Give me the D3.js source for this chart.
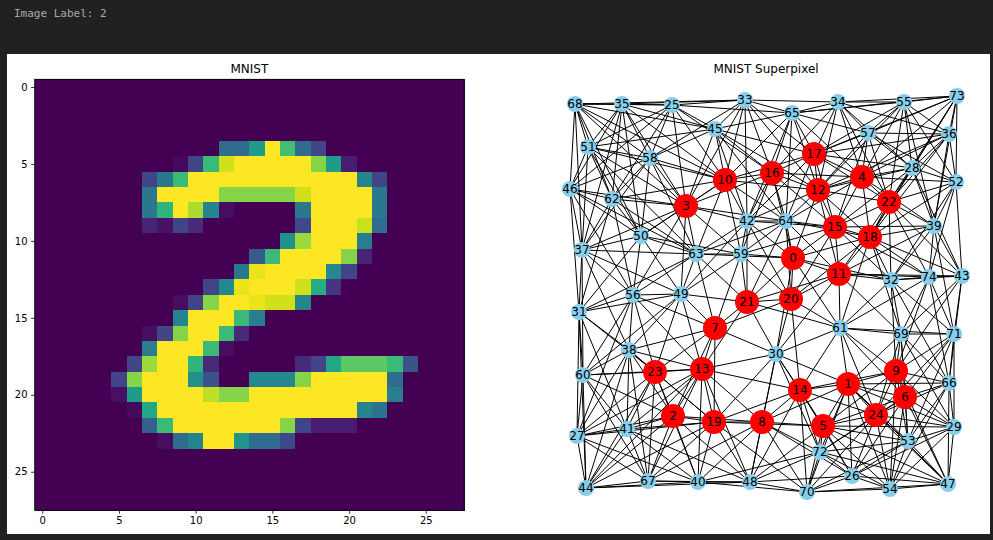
<!DOCTYPE html>
<html>
<head>
<meta charset="utf-8">
<script src="https://cdn.jsdelivr.net/npm/d3@7"></script>
<style>
body { margin: 0; background: #212121; overflow: hidden; }
svg { display: block; font-family: "DejaVu Sans", sans-serif; }
</style>
</head>
<body>
<svg id="chart" width="993" height="540"></svg>
<script>
// MNIST sample and its superpixel graph

var imageLabel = 2;
var gridSize = 28;
var imageTicks = [0, 5, 10, 15, 20, 25];

// non-empty rows of the digit: [row, first column, pixel values 0-255]
var digitRows = [
	[4, 12, [89, 89, 140, 255, 178, 89, 51]],
	[5, 9, [5, 51, 173, 237, 255, 255, 255, 255, 255, 209, 140, 20]],
	[6, 7, [51, 102, 173, 255, 255, 255, 255, 255, 255, 255, 255, 255, 255, 255, 115, 51]],
	[7, 7, [102, 255, 255, 255, 255, 209, 209, 209, 209, 209, 237, 255, 255, 255, 255, 102]],
	[8, 7, [102, 166, 255, 224, 115, 8, 0, 0, 0, 0, 102, 255, 255, 255, 255, 102]],
	[9, 7, [25, 12, 51, 30, 0, 0, 0, 0, 0, 0, 56, 255, 255, 255, 235, 89]],
	[10, 16, [128, 217, 255, 255, 255, 107]],
	[11, 14, [71, 173, 255, 255, 255, 255, 209, 25]],
	[12, 13, [102, 247, 255, 255, 255, 255, 120, 51]],
	[13, 11, [51, 120, 247, 255, 255, 255, 237, 158, 38]],
	[14, 9, [8, 51, 209, 255, 255, 247, 237, 237, 115]],
	[15, 9, [115, 255, 255, 255, 173, 107]],
	[16, 7, [8, 51, 209, 255, 255, 173, 30]],
	[17, 7, [107, 255, 255, 255, 173, 8]],
	[18, 6, [51, 217, 255, 255, 166, 30, 0, 0, 0, 0, 0, 30, 51, 153, 191, 191, 191, 173, 64]],
	[19, 5, [51, 209, 255, 255, 255, 128, 64, 0, 0, 120, 120, 120, 209, 255, 255, 255, 255, 255, 89]],
	[20, 5, [10, 140, 255, 255, 255, 255, 230, 209, 209, 255, 255, 255, 255, 255, 255, 255, 255, 255, 107]],
	[21, 6, [5, 153, 255, 255, 255, 255, 255, 255, 255, 255, 255, 255, 255, 255, 255, 115, 97]],
	[22, 7, [77, 173, 255, 255, 255, 255, 255, 255, 255, 209, 51, 20, 20, 20]],
	[23, 8, [8, 89, 115, 255, 255, 133, 89, 89, 56]]
];

// superpixel node positions in layout units (0-400), index = node id
var nodeX = [228, 283, 108, 121, 297, 258, 340, 150, 197, 331,
	160, 274, 253, 137, 235, 270, 207, 249, 305, 149,
	226, 182, 324, 90, 311, 107, 287, 12, 347, 389,
	211, 14, 326, 180, 273, 57, 384, 17, 64, 369,
	133, 62, 182, 397, 21, 150, 5, 383, 185, 116,
	76, 23, 391, 343, 325, 339, 68, 303, 85, 176,
	18, 275, 47, 131, 221, 227, 384, 83, 10, 336,
	242, 389, 255, 392, 364];
var nodeY = [166, 292, 324, 114, 85, 334, 305, 236, 330, 279,
	88, 182, 98, 277, 298, 135, 81, 62, 145, 330,
	207, 210, 110, 280, 323, 13, 384, 344, 76, 335,
	262, 220, 188, 8, 10, 12, 42, 158, 258, 134,
	390, 337, 129, 184, 396, 37, 97, 392, 390, 202,
	144, 55, 90, 349, 397, 10, 203, 41, 66, 162,
	283, 236, 107, 162, 129, 21, 291, 389, 12, 242,
	400, 242, 360, 4, 185];
var digitNodeCount = 25; // nodes 0-24 lie on the stroke
var neighbourCount = 12;

var svg = d3.select('#chart');

// top caption
svg.append('text')
	.attr('x', 14).attr('y', 17)
	.attr('fill', '#aaaaaa')
	.style('font-family', '"DejaVu Sans Mono", monospace')
	.style('font-size', '11px')
	.text('Image Label: ' + imageLabel);

// figure background
svg.append('rect')
	.attr('x', 7).attr('y', 54)
	.attr('width', 983).attr('height', 480)
	.attr('fill', '#ffffff');

// ---- left: the image ----
var xs = d3.scaleLinear().domain([-0.5, gridSize - 0.5]).range([34.6, 464.1]);
var ys = d3.scaleLinear().domain([-0.5, gridSize - 0.5]).range([79.3, 510.2]);

var pixels = [];
for (var r = 0; r < gridSize; r++) {
	for (var c = 0; c < gridSize; c++) pixels.push({r: r, c: c, v: 0});
}
digitRows.forEach(function(d){
	d[2].forEach(function(v, i){
		pixels[d[0] * gridSize + d[1] + i].v = v;
	});
});
var colour = d3.scaleSequential(d3.interpolateViridis).domain([0, 255]);

var img = svg.append('g').attr('shape-rendering', 'crispEdges');
img.selectAll('rect')
	.data(pixels)
	.enter()
	.append('rect')
	.attr('x', function(d){ return xs(d.c - 0.5); })
	.attr('y', function(d){ return ys(d.r - 0.5); })
	.attr('width', xs(1) - xs(0) + 0.5)
	.attr('height', ys(1) - ys(0) + 0.5)
	.attr('fill', function(d){ return colour(d.v); });

svg.append('rect')
	.attr('x', xs(-0.5)).attr('y', ys(-0.5))
	.attr('width', xs(gridSize - 0.5) - xs(-0.5))
	.attr('height', ys(gridSize - 0.5) - ys(-0.5))
	.attr('fill', 'none').attr('stroke', '#000').attr('stroke-width', 0.8);

var xAxis = svg.append('g')
	.attr('transform', 'translate(0,' + ys(gridSize - 0.5) + ')')
	.call(d3.axisBottom(xs).tickValues(imageTicks).tickSize(3.5).tickPadding(3.5));
var yAxis = svg.append('g')
	.attr('transform', 'translate(' + xs(-0.5) + ',0)')
	.call(d3.axisLeft(ys).tickValues(imageTicks).tickSize(3.5).tickPadding(3.5));
[xAxis, yAxis].forEach(function(a){
	a.select('.domain').remove();
	a.selectAll('line').attr('stroke', '#000').attr('stroke-width', 0.8);
	a.selectAll('text').attr('fill', '#000')
		.style('font-family', '"DejaVu Sans", sans-serif').style('font-size', '10px');
});

svg.append('text')
	.attr('x', (xs(-0.5) + xs(gridSize - 0.5)) / 2).attr('y', 73)
	.attr('text-anchor', 'middle')
	.style('font-size', '12px')
	.text('MNIST');

// ---- right: the superpixel graph ----
var gx = d3.scaleLinear().domain([0, 400]).range([565, 965]);
var gy = d3.scaleLinear().domain([0, 400]).range([92, 492]);

var nodes = nodeX.map(function(x, i){ return {id: i, x: x, y: nodeY[i]}; });

// k nearest neighbours in layout space, made undirected
var edgeSet = new Set();
var edges = [];
nodes.forEach(function(a){
	var near = nodes.filter(function(b){ return b.id != a.id; })
		.sort(function(p, q){
			return Math.hypot(p.x - a.x, p.y - a.y) - Math.hypot(q.x - a.x, q.y - a.y);
		})
		.slice(0, neighbourCount);
	near.forEach(function(b){
		var key = Math.min(a.id, b.id) + '-' + Math.max(a.id, b.id);
		if (!edgeSet.has(key)) {
			edgeSet.add(key);
			edges.push([a, b]);
		}
	});
});

var graph = svg.append('g');
graph.selectAll('line')
	.data(edges)
	.enter()
	.append('line')
	.attr('x1', function(d){ return gx(d[0].x); })
	.attr('y1', function(d){ return gy(d[0].y); })
	.attr('x2', function(d){ return gx(d[1].x); })
	.attr('y2', function(d){ return gy(d[1].y); })
	.attr('stroke', '#000')
	.attr('stroke-width', 1);

var nodeG = graph.selectAll('g.node')
	.data(nodes)
	.enter()
	.append('g')
	.attr('class', 'node')
	.attr('transform', function(d){ return 'translate(' + gx(d.x) + ',' + gy(d.y) + ')'; });
nodeG.append('circle')
	.attr('r', function(d){ return d.id < digitNodeCount ? 12 : 8; })
	.attr('fill', function(d){ return d.id < digitNodeCount ? '#ff0000' : '#87ceeb'; });
nodeG.append('text')
	.attr('text-anchor', 'middle')
	.attr('dy', '0.36em')
	.style('font-size', '12px')
	.attr('fill', '#000')
	.text(function(d){ return d.id; });

svg.append('text')
	.attr('x', 766).attr('y', 73)
	.attr('text-anchor', 'middle')
	.style('font-size', '12px')
	.text('MNIST Superpixel');
</script>
</body>
</html>
